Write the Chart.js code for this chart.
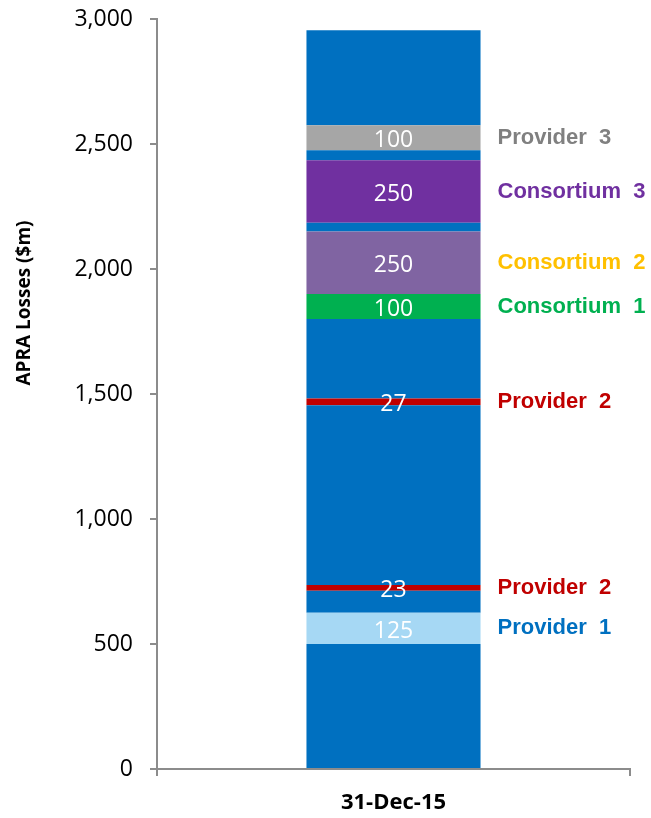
<!DOCTYPE html>
<html>
<head>
<meta charset="utf-8">
<script src="https://cdn.jsdelivr.net/npm/chart.js@4"></script>
<style>
  html, body { margin: 0; padding: 0; background: #fff; }
  #wrap { width: 651px; height: 818px; }
</style>
</head>
<body>
<div id="wrap"><canvas id="lossChart"></canvas></div>
<script>
// Pérdidas APRA apiladas, de abajo hacia arriba ($m)
const categories = ['31-Dec-15'];
const segmentNames  = ['', 'Provider 1', '', 'Provider 2', '', 'Provider 2', '', 'Consortium 1', 'Consortium 2', '', 'Consortium 3', '', 'Provider 3', ''];
const segmentValues = [500, 125, 88, 23, 719, 27, 318, 100, 250, 35, 250, 40, 100, 380];
const yTicks = [0, 500, 1000, 1500, 2000, 2500, 3000];

// Colores
const BASE_BLUE = '#0070C0';
const fillColors = {
    'Provider 1': '#A6D8F4',
    'Provider 2': '#C00000',
    'Consortium 1': '#00B050',
    'Consortium 2': '#8064A2',
    'Consortium 3': '#7030A0',
    'Provider 3': '#A6A6A6'
};
const nameColors = {
    'Provider 1': '#0070C0',
    'Provider 2': '#C00000',
    'Consortium 1': '#00B050',
    'Consortium 2': '#FFC000',
    'Consortium 3': '#7030A0',
    'Provider 3': '#808080'
};
const AXIS_GREY = '#8c8c8c';

const datasets = segmentValues.map((v, i) => ({
    label: segmentNames[i] || 'Base',
    data: [v],
    backgroundColor: segmentNames[i] ? fillColors[segmentNames[i]] : BASE_BLUE,
    borderWidth: 0,
    barPercentage: 0.368,
    categoryPercentage: 1.0
}));

// Etiquetas: valor dentro de la barra y nombre a la derecha
const segmentLabels = {
    id: 'segmentLabels',
    afterDatasetsDraw(chart) {
        const ctx = chart.ctx;
        ctx.save();
        chart.data.datasets.forEach((ds, i) => {
            const name = segmentNames[i];
            if (!name) return;
            const bar = chart.getDatasetMeta(i).data[0];
            const cy = (bar.y + bar.base) / 2;
            ctx.textBaseline = 'middle';

            ctx.fillStyle = '#ffffff';
            ctx.textAlign = 'center';
            ctx.font = '23px "Open Sans"';
            ctx.fillText(String(segmentValues[i]), bar.x, cy + 3);

            ctx.fillStyle = nameColors[name];
            ctx.textAlign = 'left';
            ctx.font = 'bold 22px "Liberation Sans", Arial';
            ctx.fillText(name.replace(' ', '  '), bar.x + bar.width / 2 + 17, cy);
        });

        // Título del eje Y
        ctx.translate(25, 303);
        ctx.rotate(-Math.PI / 2);
        ctx.fillStyle = '#000';
        ctx.textAlign = 'center';
        ctx.font = 'bold 19px "Open Sans"';
        ctx.fillText('APRA Losses ($m)', 0, 0);
        ctx.restore();
    }
};

new Chart(document.getElementById('lossChart'), {
    type: 'bar',
    data: { labels: categories, datasets: datasets },
    options: {
        responsive: true,
        maintainAspectRatio: false,
        animation: false,
        layout: { padding: { top: 19, right: 21, bottom: 0, left: 0 } },
        plugins: { legend: { display: false }, tooltip: { enabled: false } },
        scales: {
            x: {
                stacked: true,
                offset: true,
                afterFit: s => { s.height = 49; s.paddingLeft = 0; s.paddingRight = 0; },
                border: { display: true, color: AXIS_GREY, width: 2 },
                grid: { display: true, drawOnChartArea: false, offset: true, tickLength: 7, color: AXIS_GREY, lineWidth: 2 },
                ticks: { color: '#000', padding: 14, font: { family: 'Open Sans', size: 22, weight: 'bold' } }
            },
            y: {
                stacked: true,
                min: 0,
                max: 3000,
                afterFit: s => { s.width = 157; s.paddingTop = 0; s.paddingBottom = 0; },
                afterBuildTicks: s => { s.ticks = yTicks.map(v => ({ value: v })); },
                border: { display: true, color: AXIS_GREY, width: 2 },
                grid: { display: true, drawOnChartArea: false, tickLength: 7, color: AXIS_GREY, lineWidth: 2 },
                ticks: {
                    color: '#000',
                    padding: 17,
                    font: { family: 'Open Sans', size: 23 },
                    callback: v => v.toLocaleString('en-US')
                }
            }
        }
    },
    plugins: [segmentLabels]
});
</script>
</body>
</html>
